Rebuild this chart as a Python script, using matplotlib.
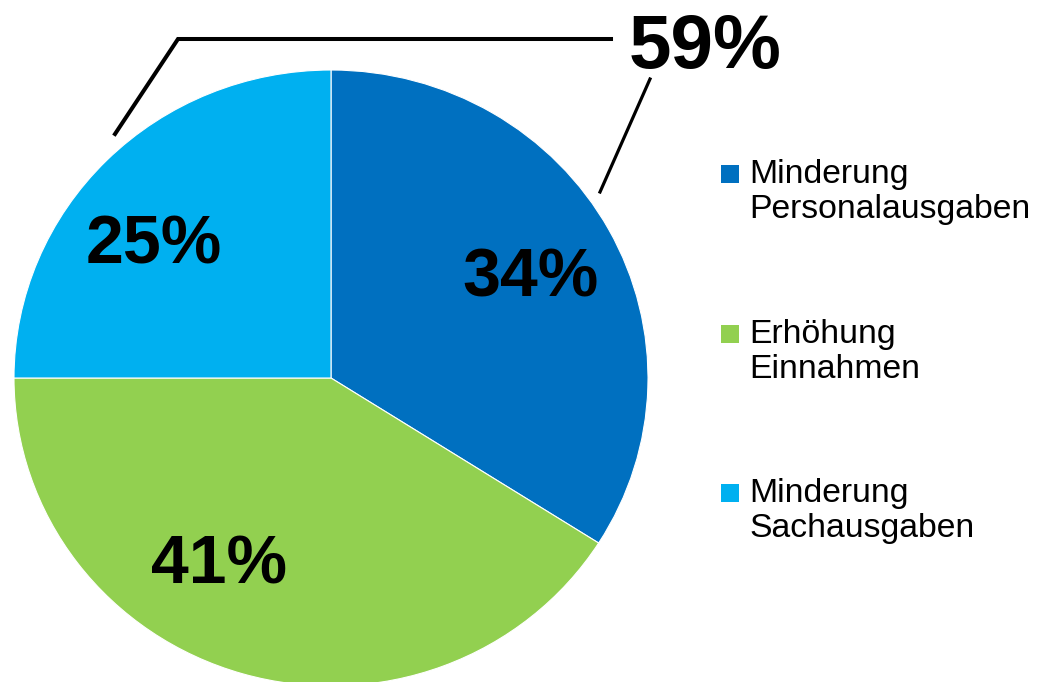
import matplotlib.pyplot as plt
from matplotlib.patches import Rectangle
from matplotlib.lines import Line2D

plt.rcParams['font.family'] = ['Liberation Sans', 'DejaVu Sans']

# Data
labels = ['Minderung\nPersonalausgaben', 'Erhöhung\nEinnahmen', 'Minderung\nSachausgaben']
shares = [34, 41, 25]
colors = ['#0070C0', '#92D050', '#00B0F0']
total_label = '59%'   # Personal + Sach

W, H = 1050, 682
fig = plt.figure(figsize=(W / 100, H / 100), dpi=100)


def fx(px):
    return px / W


def fy(py):
    return 1 - py / H


# pie box in pixels: x 14..648, y 70..686 (bottom is cut off by the figure edge)
left, right, top, bottom = 14, 648, 70, 686
ax = fig.add_axes([fx(left), fy(bottom), (right - left) / W, (bottom - top) / H])
ax.pie(shares, colors=colors, startangle=90, counterclock=False, radius=1,
       wedgeprops=dict(edgecolor='white', linewidth=0.8))
ax.set_aspect('auto')
ax.set_xlim(-1, 1)
ax.set_ylim(-1, 1)
ax.axis('off')

# percentage labels (baseline positions in pixels)
label_pos = [(531, 296), (219, 583), (154, 263)]
for s, (x, y) in zip(shares, label_pos):
    fig.text(fx(x), fy(y), f'{s}%', ha='center', va='baseline',
             fontsize=49, fontweight='bold', color='black')

# bracket for 59%
fig.add_artist(Line2D([fx(115), fx(178), fx(611)], [fy(134), fy(39), fy(39)],
                      color='black', linewidth=2.9, solid_joinstyle='miter'))
fig.add_artist(Line2D([fx(650), fx(600)], [fy(79), fy(192)],
                      color='black', linewidth=2.3))
fig.text(fx(705), fy(68), total_label, ha='center', va='baseline',
         fontsize=55, fontweight='bold', color='black')

# legend
legend_y = [165, 325, 484]   # top of square in pixels
for lab, col, y in zip(labels, colors, legend_y):
    fig.add_artist(Rectangle((fx(721), fy(y + 18)), 18 / W, 18 / H,
                             transform=fig.transFigure, facecolor=col, edgecolor='none'))
    fig.text(fx(749), fy(y - 6), lab, ha='left', va='top', fontsize=24.3,
             color='black', linespacing=1.15)

fig.savefig('out.png', dpi=100)
